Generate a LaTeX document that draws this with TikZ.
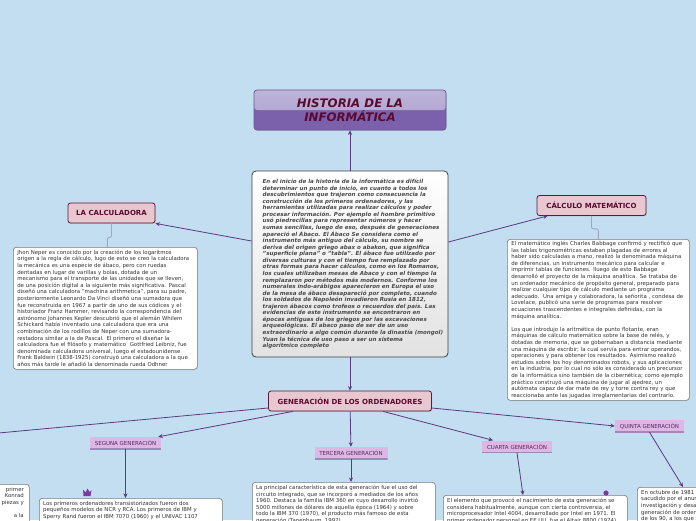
\documentclass[tikz,border=0pt]{standalone}
\usepackage{fontspec}
\setmainfont{DejaVu Sans}
\usetikzlibrary{arrows.meta,shadows}
\definecolor{bgc}{HTML}{C2DEF0}
\definecolor{connc}{HTML}{5B3A7D}
\definecolor{stepc}{HTML}{9EA6CA}
\definecolor{titletop}{HTML}{A99CCC}
\definecolor{titlebot}{HTML}{7B61AB}
\definecolor{titleedge}{HTML}{6A5890}
\definecolor{titletext}{HTML}{5A0A2E}
\definecolor{mainedge}{HTML}{3F3F3F}
\definecolor{mainbot}{HTML}{E2E2E2}
\definecolor{maintext}{HTML}{4A4A4A}
\definecolor{pinkfill}{HTML}{E9C7D0}
\definecolor{labeledge}{HTML}{5A1A38}
\definecolor{lavfill}{HTML}{DDB8E5}
\definecolor{lavedge}{HTML}{A487B8}
\definecolor{genlabeltext}{HTML}{55275F}
\definecolor{boxedge}{HTML}{7A7A7A}
\definecolor{bodyc}{HTML}{333333}
\definecolor{iconc}{HTML}{7B3A9C}
\tikzset{
  conn/.style={draw=connc, line width=0.8pt, -{Stealth[length=4.5pt,width=4pt]}},
  stepconn/.style={draw=stepc, line width=0.9pt, rounded corners=2pt},
  titlebox/.style={rectangle, rounded corners=3pt, minimum width=192pt, minimum height=40pt, inner sep=0pt,
    fill=titlebot, draw=titleedge, line width=0.7pt,
    drop shadow={shadow xshift=0.6pt, shadow yshift=-0.9pt, opacity=0.3},
    path picture={\fill[top color=titletop!75!white, bottom color=titletop] (path picture bounding box.north west) rectangle (path picture bounding box.east);},
    font=\fontsize{11.8}{14}\selectfont\bfseries\itshape, text=titletext, align=center},
  mainbox/.style={rectangle, rounded corners=4pt, draw=mainedge, line width=0.8pt, top color=white, bottom color=mainbot,
    minimum width=196pt, minimum height=186pt, inner sep=0pt},
  maintextstyle/.style={align=left, inner sep=0pt,
    font=\fontsize{5.55}{6.56}\selectfont\bfseries\itshape, text=maintext},
  labelbox/.style={rectangle, rounded corners=2.5pt, fill=pinkfill, draw=labeledge, line width=0.8pt,
    minimum height=20pt, inner sep=0pt, font=\fontsize{7}{8}\selectfont\bfseries, text=titletext,
    drop shadow={shadow xshift=0.6pt, shadow yshift=-0.9pt, opacity=0.3}},
  genlabel/.style={rectangle, fill=lavfill, minimum height=12pt, inner sep=0pt,
    font=\fontsize{5.5}{6.5}\selectfont, text=genlabeltext,
    path picture={\draw[lavedge, line width=2pt] (path picture bounding box.south west) -- (path picture bounding box.south east);}},
  textbox/.style={rectangle, rounded corners=3pt, fill=white, draw=boxedge, line width=0.6pt,
    drop shadow={shadow xshift=0.5pt, shadow yshift=-0.7pt, opacity=0.2}},
  bodytext/.style={font=\fontsize{5.4}{6.6}\selectfont, text=bodyc, align=left, inner sep=0pt},
}
\begin{document}
\begin{tikzpicture}[x=1pt,y=-1pt]
\fill[bgc] (0,0) rectangle (696,520);
\useasboundingbox (0,0) rectangle (696,520);
\clip (0,0) rectangle (696,520);

% title
\node[titlebox] (title) at (350,110) {HISTORIA DE LA\\INFORMÁTICA};

% main text
\node[mainbox] (main) at (350,264) {};
\node[maintextstyle, anchor=west] (maintxt) at (262.5,264) {En el inicio de la historia de la informática es difícil\\
determinar un punto de inicio, en cuanto a todos los\\
descubrimientos que trajeron como consecuencia la\\
construcción de los primeros ordenadores, y las\\
herramientas utilizadas para realizar cálculos y poder\\
procesar información. Por ejemplo el hombre primitivo\\
usó piedrecillas para representar números y hacer\\
sumas sencillas, luego de eso, después de generaciones\\
apareció el Ábaco. El Ábaco Se considera como el\\
instrumento más antiguo del cálculo, su nombre se\\
deriva del origen griego abax o abakon, que significa\\
"superficie plana" o "tabla". El ábaco fue utilizado por\\
diversas culturas y con el tiempo fue remplazado por\\
otras formas para hacer cálculos, como en los Romanos,\\
los cuales utilizaban mesas de Abaco y con el tiempo la\\
remplazaron por métodos más modernos. Conforme los\\
numerales indo-arábigos aparecieron en Europa el uso\\
de la mesa de ábaco desapareció por completo, cuando\\
los soldados de Napoleón invadieron Rusia en 1812,\\
trajeron ábacos como trofeos o recuerdos del país. Las\\
evidencias de este instrumento se encontraron en\\
épocas antiguas de los griegos por las excavaciones\\
arqueológicas. El abaco paso de ser de un uso\\
extraordinario a algo común durante la dinastía (mongol)\\
Yuan la técnica de uso paso a ser un sistema\\
algorítmico completo};

% labels
\node[labelbox, minimum width=87pt] (lacalc) at (111.5,213) {LA CALCULADORA};
\node[labelbox, minimum width=109pt] (lacm) at (591.5,205.5) {CÁLCULO MATEMÁTICO};
\node[labelbox, minimum width=163pt] (gen) at (350,401) {GENERACIÓN DE LOS ORDENADORES};

% calculadora text
\node[textbox, bodytext, inner xsep=4pt, inner ysep=0pt, text width=176pt, minimum height=122pt, anchor=north west] (calctext) at (13,247) {Jhon Neper es conocido por la creación de los logaritmos\\
origen a la regla de cálculo, lugo de esto se creo la calculadora\\
la mecánica es una especie de ábaco, pero con ruedas\\
dentadas en lugar de varillas y bolas, dotada de un\\
mecanismo para el transporte de las unidades que se lleven,\\
de una posición digital a la siguiente más significativa. Pascal\\
diseñó una calculadora "machina arithmetica", para su padre,\\
posteriormente Leonardo Da Vinci diseñó una sumadora que\\
fue reconstruida en 1967 a partir de uno de sus códices y el\\
historiador Franz Hammer, revisando la correspondencia del\\
astrónomo Johannes Kepler descubrió que el alemán Whilem\\
Schickard había inventado una calculadora que era una\\
combinación de los rodillos de Neper con una sumadora-\\
restadora similar a la de Pascal. El primero el diseñar la\\
calculadora fue el filósofo y matemático\ \ Gottfried Leibniz, fue\\
denominada calculadora universal, luego el estadounidense\\
Frank Baldwin (1838-1925) construyó una calculadora a la que\\
años más tarde le añadió la denominada rueda Odhner};

% calculo text
\node[textbox, bodytext, inner xsep=4pt, inner ysep=0pt, text width=174pt, minimum height=161pt, anchor=north west] (cmtext) at (507,239) {El matemático inglés Charles Babbage confirmó y rectificó que\\
las tablas trigonométricas estaban plagadas de errores al\\
haber sido calculadas a mano, realizó la denominada máquina\\
de diferencias, un instrumento mecánico para calcular e\\
imprimir tablas de funciones. lluego de esto Babbage\\
desarrolló el proyecto de la máquina analítica. Se trataba de\\
un ordenador mecánico de propósito general, preparado para\\
realizar cualquier tipo de cálculo mediante un programa\\
adecuado.\ \ Una amiga y colaboradora, la señorita , condesa de\\
Lovelace, publicó una serie de programas para resolver\\
ecuaciones trascendentes e integrales definidas, con la\\
máquina analítica.\\
~\\
Los que introdujo la aritmética de punto flotante, eran\\
máquinas de cálculo matemático sobre la base de relés, y\\
dotadas de memoria, que se gobernaban a distancia mediante\\
una máquina de escribir; la cual servía para entrar operandos,\\
operaciones y para obtener los resultados. Asimismo realizó\\
estudios sobre los hoy denominados robots, y sus aplicaciones\\
en la industria, por lo cual no sólo es considerado un precursor\\
de la informática sino también de la cibernética; como ejemplo\\
práctico construyó una máquina de jugar al ajedrez, un\\
autómata capaz de dar mate de rey y torre contra rey y que\\
reaccionaba ante las jugadas irreglamentarias del contrario.};

% generation labels
\node[genlabel, minimum width=71pt] (seg) at (125.5,443) {SEGUNA GENERACIÓN};
\node[genlabel, minimum width=73pt] (ter) at (351,453) {TERCERA GENERACIÓN};
\node[genlabel, minimum width=70pt] (cua) at (517,446.5) {CUARTA GENERACIÓN};
\node[genlabel, minimum width=69pt] (qui) at (649.5,426) {QUINTA GENERACIÓN};

% bottom text boxes
\node[textbox, minimum width=189pt, minimum height=80pt, anchor=north west, inner sep=0pt] (primbox) at (-160,484) {};
\node[bodytext, align=right, anchor=north east] (primtxt) at (24,487) {primer\\Konrad\\piezas y\\~\\a la\hspace{11pt}};
\node[textbox, minimum width=183pt, minimum height=80pt, anchor=north west, inner sep=0pt] (segbox) at (39,498) {};
\node[bodytext, anchor=north west] (segtxt) at (43,501) {Los primeros ordenadores transistorizados fueron dos\\
pequeños modelos de NCR y RCA. Los primeros de IBM y\\
Sperry Rand fueron el IBM 7070 (1960) y el UNIVAC 1107};
\node[textbox, minimum width=183pt, minimum height=80pt, anchor=north west, inner sep=0pt] (terbox) at (252,482) {};
\node[bodytext, anchor=north west] (tertxt) at (256,485) {La principal característica de esta generación fue el uso del\\
circuito integrado, que se incorporó a mediados de los años\\
1960. Destaca la familia IBM 360 en cuyo desarrollo invirtió\\
5000 millones de dólares de aquella época (1964) y sobre\\
todo la IBM 370 (1970), el producto más famoso de esta\\
generación (Tanenbaum, 1992).};
\node[textbox, minimum width=184pt, minimum height=80pt, anchor=north west, inner sep=0pt] (cuabox) at (443,495) {};
\node[bodytext, anchor=north west] (cuatxt) at (447,498) {El elemento que provocó el nacimiento de esta generación se\\
considera habitualmente, aunque con cierta controversia, el\\
microprocesador Intel 4004, desarrollado por Intel en 1971. El\\
primer ordenador personal en EE.UU. fue el Altair 8800 (1974)};
\node[textbox, minimum width=190pt, minimum height=80pt, anchor=north west, inner sep=0pt] (quibox) at (637,487) {};
\node[bodytext, anchor=north west] (quitxt) at (641,490) {En octubre de 1981 el mundo de los ordenadores se vio\\
sacudido por el anuncio hecho en Japón de una iniciativa de\\
investigación y desarrollo orientada a producir una nueva\\
generación de ordenadores en la primera década de los años\\
de los 90, a los que se les dio el nombre de ordenadores de};

% small icons
\fill[iconc] (83.5,496) -- (83,489.5) -- (85.5,492.5) -- (87.5,488.5) -- (89.5,492) -- (91.5,490) -- (90.5,496) -- cycle;
\fill[iconc] (606,493) circle (2.6pt);

% connectors
\draw[conn] (main) -- (title);
\draw[conn] ([yshift=23pt]main.west) -- (lacalc.south east);
\draw[conn] ([yshift=22pt]main.east) -- ([xshift=11pt]lacm.south west);
\draw[conn] (main) -- (gen);
\draw[stepconn] (lacalc.south) -- ++(0,14) -| ([xshift=2pt]calctext.north);
\draw[stepconn] (lacm.south) -- ++(0,13) -| (cmtext.north);
\coordinate (primend) at (-120,444);
\draw[conn] ([yshift=-7pt]gen.west) -- (primend);
\draw[conn] ([xshift=-57pt]gen.south) -- ([xshift=-3pt]seg.north east);
\draw[conn] (gen) -- (ter);
\draw[conn] ([xshift=33pt]gen.south) -- ([xshift=-24pt]cua.north);
\draw[conn] ([yshift=-7pt]gen.east) -- (qui.west);
\draw[conn] (seg.south) -- (seg.south |- segbox.north);
\draw[conn] (ter) -- (ter.south |- terbox.north);
\draw[conn] (cua.south) -- ([xshift=80pt]cuabox.north west);
\draw[conn] (qui.south) -- ([xshift=46pt]quibox.north west);
\end{tikzpicture}
\end{document}
